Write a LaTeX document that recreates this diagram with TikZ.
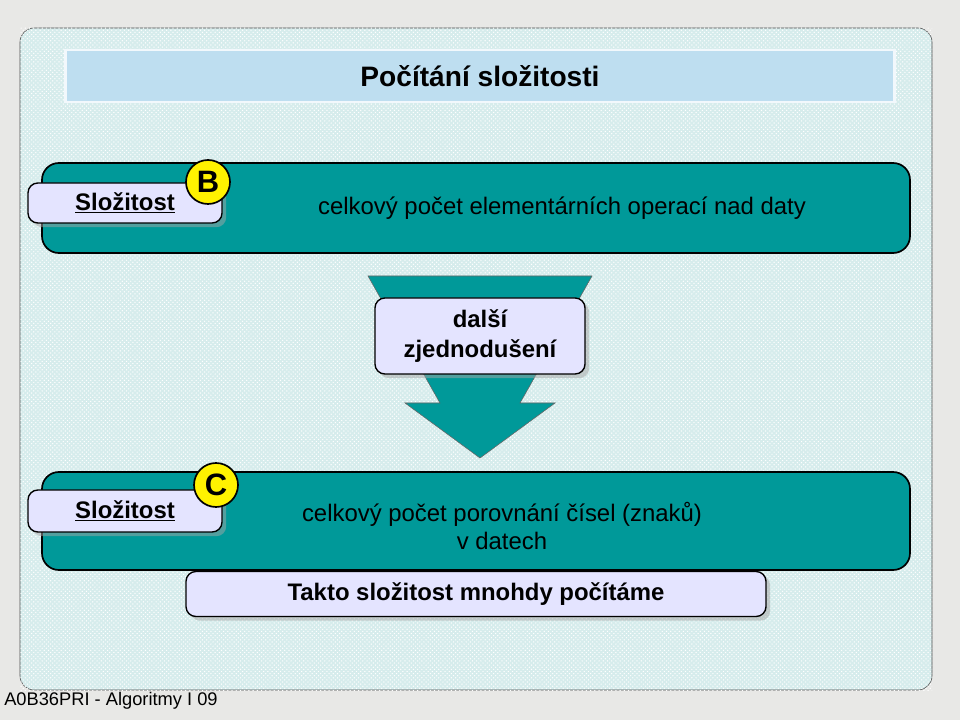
\documentclass[tikz,border=0pt]{standalone}
\usepackage{fontspec}
\setmainfont{Liberation Sans}
\usetikzlibrary{positioning,shadows,patterns}
\definecolor{tealbar}{RGB}{0,153,153}
\definecolor{lavender}{RGB}{228,228,255}
\definecolor{panelbg}{RGB}{214,236,236}
\definecolor{titlebg}{RGB}{190,222,240}
\definecolor{pagebg}{RGB}{232,232,230}
\tikzset{
  bar/.style={draw=black, line width=1.2pt, fill=tealbar, rounded corners=12pt},
  labelbox/.style={draw=black, line width=1pt, fill=lavender, rounded corners=7pt,
    drop shadow={shadow xshift=3pt, shadow yshift=-3pt, fill=gray!70}},
  badge/.style={circle, draw=black, line width=1.2pt, fill=yellow, minimum size=44\unit,
    inner sep=0pt, font=\fontsize{22}{24}\selectfont\bfseries},
  bartext/.style={font=\fontsize{17}{20}\selectfont, align=center},
}
\newcommand{\unit}{*0.025cm}
\begin{document}
\begin{tikzpicture}[x=0.025cm,y=-0.025cm]
  \useasboundingbox (0,0) rectangle (960,720);
  % page and panel
  \fill[pagebg] (0,0) rectangle (960,720);
  \filldraw[fill=panelbg, draw=black!70, rounded corners=10pt] (20,28) rectangle (932,690);
  \fill[pattern=crosshatch dots, pattern color=white] (20,28) rectangle (932,690);
  % title
  \node[draw=white!80!titlebg, line width=2pt, fill=titlebg, minimum width=829\unit,
        minimum height=52\unit] (title) at (480,76)
        {\fontsize{20}{24}\selectfont\bfseries Počítání složitosti};
  % upper bar
  \draw[bar] (42,163) rectangle (910,253);
  \node[bartext] (ops) at (562,208) {celkový počet elementárních operací nad daty};
  \node[labelbox, minimum width=194\unit, minimum height=40\unit] (slozB) at (125,203)
        {\fontsize{17}{20}\selectfont\bfseries\underline{Složitost}};
  \node[badge] (B) at (208,182) {B};
  % arrow
  \fill[tealbar, draw=black!60] (368,276) -- (592,276) -- (520,403) -- (555,403)
        -- (480,458) -- (405,403) -- (440,403) -- cycle;
  \node[labelbox, minimum width=210\unit, minimum height=76\unit, align=center,
        font=\fontsize{17}{21}\selectfont\bfseries] (simpl) at (480,336)
        {další\\zjednodušení};
  % lower bar
  \draw[bar] (42,472) rectangle (910,570);
  \node[bartext] (cmp) at (502,526) {celkový počet porovnání čísel (znaků)\\v datech};
  \node[labelbox, minimum width=194\unit, minimum height=42\unit] (slozC) at (125,511)
        {\fontsize{17}{20}\selectfont\bfseries\underline{Složitost}};
  \node[badge] (C) at (216,485) {C};
  \node[labelbox, minimum width=580\unit, minimum height=45\unit,
        font=\fontsize{17}{20}\selectfont\bfseries] (takto) at (476,594)
        {Takto složitost mnohdy počítáme};
  % footer
  \node[anchor=west, font=\fontsize{13}{15}\selectfont, inner sep=0pt] (foot) at (4,701)
        {A0B36PRI - Algoritmy I 09};
\end{tikzpicture}
\end{document}
